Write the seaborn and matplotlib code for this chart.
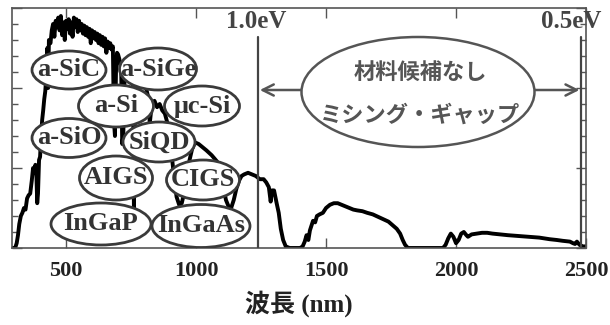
import numpy as np
import pandas as pd
import seaborn as sns
import matplotlib.pyplot as plt
from matplotlib.patches import Ellipse
from matplotlib.ticker import MultipleLocator

# Solar spectral irradiance (arbitrary units) versus wavelength (nm)
wavelength = [
    280, 295, 304, 310, 315, 320, 326, 332, 338, 344, 350, 356, 362, 368, 373, 378,
    382, 386, 389, 392, 396, 400, 404, 408, 412, 416, 420, 425, 428, 431, 434, 440,
    445, 450, 455, 460, 465, 470, 475, 480, 485, 490, 495, 500, 505, 510, 515, 520,
    525, 530, 535, 540, 545, 550, 555, 560, 565, 570, 575, 580, 585, 590, 595, 600,
    605, 610, 615, 620, 625, 630, 635, 640, 645, 650, 655, 660, 665, 670, 675, 680,
    684, 688, 692, 696, 700, 705, 712, 716, 720, 725, 730, 740, 750, 757, 761, 765,
    770, 780, 800, 815, 822, 830, 840, 850, 860, 870, 880, 895, 905, 915, 925, 935,
    945, 955, 965, 975, 985, 996, 1010, 1025, 1040, 1060, 1081, 1095, 1105, 1115,
    1125, 1135, 1145, 1155, 1165, 1175, 1185, 1200, 1215, 1230, 1245, 1260, 1270,
    1280, 1287, 1292, 1300, 1310, 1318, 1326, 1335, 1345, 1360, 1400, 1410, 1418,
    1425, 1432, 1438, 1444, 1450, 1458, 1465, 1475, 1488, 1500, 1515, 1530, 1545,
    1560, 1575, 1590, 1605, 1620, 1640, 1658, 1680, 1700, 1720, 1740, 1758, 1772,
    1785, 1795, 1804, 1815, 1900, 1950, 1960, 1970, 1980, 1990, 2000, 2010, 2020,
    2030, 2040, 2046, 2060, 2080, 2100, 2120, 2140, 2170, 2200, 2240, 2285, 2320,
    2360, 2388, 2410, 2438, 2450, 2458, 2465, 2475, 2488, 2500,
]
irradiance = [
    0.0, 0.0, 0.0, 0.03, 0.08, 0.15, 0.20, 0.22, 0.25, 0.24, 0.31, 0.33, 0.34, 0.42, 0.50, 0.47,
    0.52, 0.45, 0.28, 0.34, 0.55, 0.57, 0.70, 0.80, 0.86, 0.93, 0.98, 1.10, 1.25, 1.00, 1.30, 1.28,
    1.36, 1.40, 1.32, 1.42, 1.38, 1.44, 1.36, 1.45, 1.33, 1.41, 1.30, 1.42, 1.37, 1.43, 1.34, 1.41,
    1.32, 1.44, 1.38, 1.43, 1.35, 1.42, 1.36, 1.40, 1.34, 1.39, 1.33, 1.38, 1.32, 1.37, 1.28, 1.36,
    1.31, 1.35, 1.30, 1.34, 1.28, 1.33, 1.27, 1.32, 1.26, 1.31, 1.22, 1.29, 1.25, 1.28, 1.24, 1.26,
    0.80, 0.70, 1.10, 1.22, 1.21, 1.18, 1.12, 0.65, 0.70, 1.05, 1.15, 1.17, 1.16, 1.12, 0.24, 0.90,
    1.10, 1.12, 1.05, 0.95, 0.78, 0.90, 0.92, 0.88, 0.90, 0.86, 0.84, 0.75, 0.60, 0.45, 0.32, 0.27,
    0.28, 0.35, 0.45, 0.55, 0.62, 0.66, 0.65, 0.63, 0.61, 0.58, 0.54, 0.47, 0.38, 0.30,
    0.26, 0.25, 0.30, 0.37, 0.42, 0.45, 0.46, 0.47, 0.46, 0.45, 0.43, 0.43, 0.41,
    0.38, 0.29, 0.36, 0.36, 0.28, 0.22, 0.12, 0.05, 0.01, 0.0, 0.0, 0.01, 0.04,
    0.08, 0.05, 0.11, 0.14, 0.17, 0.16, 0.20, 0.21, 0.22, 0.25, 0.27, 0.28, 0.28,
    0.27, 0.26, 0.25, 0.24, 0.235, 0.23, 0.22, 0.21, 0.195, 0.18, 0.165, 0.14, 0.12,
    0.09, 0.05, 0.02, 0.0, 0.0, 0.0, 0.02, 0.06, 0.09, 0.07, 0.03, 0.05, 0.09,
    0.10, 0.08, 0.07, 0.085, 0.09, 0.095, 0.095, 0.09, 0.085, 0.08, 0.075, 0.07, 0.065,
    0.055, 0.05, 0.045, 0.04, 0.03, 0.025, 0.04, 0.02, 0.01, 0.01,
]

x_ticks = [500, 1000, 1500, 2000, 2500]
gap_edges_nm = [1240, 2480]
gap_labels = ["1.0eV", "0.5eV"]

materials = ["a-SiC", "a-SiGe", "a-Si", "μc-Si", "a-SiO", "SiQD",
             "AIGS", "CIGS", "InGaP", "InGaAs"]
gap_note = ["材料候補なし", "ミシング・ギャップ"]

sns.set_style("ticks")
plt.rcParams["font.family"] = ["Liberation Serif", "Noto Sans CJK JP"]

W, H = 610, 325
fig = plt.figure(figsize=(W / 100, H / 100), dpi=100)
L, R, T, B = 12, 586, 8, 248
ax = fig.add_axes([L / W, 1 - B / H, (R - L) / W, (B - T) / H])

df = pd.DataFrame({"wavelength": wavelength, "irradiance": irradiance})
sns.lineplot(data=df, x="wavelength", y="irradiance", ax=ax, color="black",
             lw=2.8, sort=False, zorder=2)

ax.set_xlim(292, 2500)
ax.set_ylim(0, 1.5)
ax.set_xticks(x_ticks)
ax.set_xticklabels([str(t) for t in x_ticks], fontsize=16, fontweight="bold",
                   color="#222222")
ax.yaxis.set_major_locator(MultipleLocator(0.5))
ax.yaxis.set_minor_locator(MultipleLocator(0.1))
ax.set_yticklabels([])
ax.tick_params(axis="both", which="major", direction="in", top=True, right=True,
               length=7, width=1.0, color="#555555", pad=9)
ax.tick_params(axis="y", which="minor", direction="in", left=True, right=True,
               length=4, width=1.0, color="#555555")
ax.set_ylabel("")
ax.set_xlabel("波長 (nm)", fontsize=18, fontweight="bold", color="#222222",
              labelpad=7)
for s in ax.spines.values():
    s.set_color("#555555")
    s.set_linewidth(1.2)


def fx(px):
    return (px - L) / (R - L)


def fy(py):
    return (B - py) / (B - T)


# band-gap boundary lines and their labels
xdata_yaxes = ax.get_xaxis_transform()
line_top = fy(37)
label_shift = [-2, -10]
for nm, lab, dx in zip(gap_edges_nm, gap_labels, label_shift):
    ax.axvline(nm, ymin=0, ymax=line_top, color="#444444", lw=1.6, zorder=3)
    ax.annotate(lab, xy=(nm, fy(22)), xycoords=xdata_yaxes,
                xytext=(dx, 0), textcoords="offset pixels",
                ha="center", va="center", fontsize=18, fontweight="bold",
                color="#444444", annotation_clip=False, zorder=4)

# material bubbles (centre x, centre y, width, height in pixels)
bubbles = [
    (69, 70, 74, 38), (158, 69, 77, 42), (116, 106, 75, 42), (202, 106, 75, 40),
    (69, 138, 74, 39), (159, 142, 72, 40), (116, 178, 73, 44), (203, 180, 73, 40),
    (101, 224, 100, 42), (201, 226, 98, 43),
]
for name, (cx, cy, w, h) in zip(materials, bubbles):
    e = Ellipse((fx(cx), fy(cy)), w / (R - L), h / (B - T), transform=ax.transAxes,
                facecolor="white", edgecolor="#3a3a3a", lw=2.0, zorder=5)
    ax.add_patch(e)
    ax.text(fx(cx), fy(cy), name, transform=ax.transAxes, ha="center",
            va="center", fontsize=19, fontweight="bold", color="#333333",
            zorder=6)

# missing-gap bubble with arrows to both boundaries
gcx, gcy, gw, gh = 418, 92, 233, 110
ax.add_patch(Ellipse((fx(gcx), fy(gcy)), gw / (R - L), gh / (B - T),
                     transform=ax.transAxes, facecolor="white",
                     edgecolor="#555555", lw=1.8, zorder=5))
for line, py in zip(gap_note, [72, 115]):
    ax.text(fx(gcx + 2), fy(py), line, transform=ax.transAxes, ha="center",
            va="center", fontsize=16, fontweight="bold", color="#555555",
            family="Noto Sans CJK JP", zorder=6)

arrow_y = fy(90)
for nm, edge_px in zip(gap_edges_nm, [gcx - gw / 2, gcx + gw / 2]):
    ax.annotate("", xy=(nm, arrow_y), xytext=(fx(edge_px), arrow_y),
                xycoords=xdata_yaxes, textcoords=ax.transAxes,
                arrowprops=dict(arrowstyle="->", color="#555555", lw=1.8,
                                mutation_scale=20, shrinkA=0, shrinkB=1),
                zorder=4)

fig.savefig("out.png", dpi=100)
